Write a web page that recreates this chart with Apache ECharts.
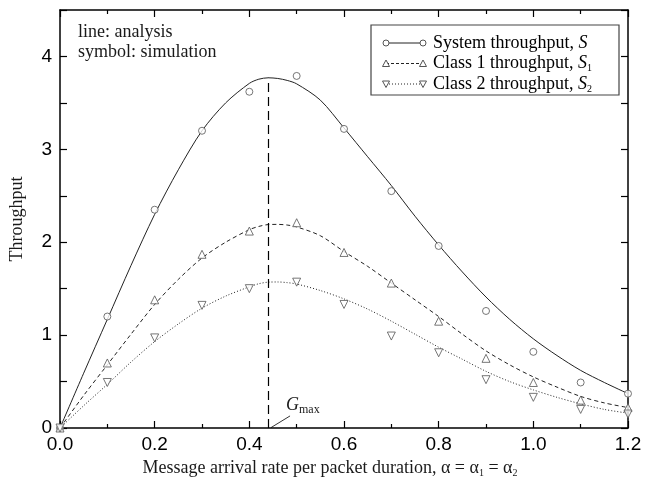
<!DOCTYPE html>
<html>
<head>
<meta charset="utf-8">
<script src="https://cdn.jsdelivr.net/npm/echarts@6/dist/echarts.min.js"></script>
<style>
  html, body { margin: 0; padding: 0; background: #fff; }
  #chart { width: 645px; height: 485px; }
</style>
</head>
<body>
<div id="chart"></div>
<script>
// Analysis curves (throughput vs. message arrival rate)
const xLine = [0, 0.05, 0.1, 0.15, 0.2, 0.25, 0.3, 0.35, 0.4, 0.42, 0.44, 0.46, 0.48, 0.5, 0.55, 0.6, 0.65, 0.7, 0.75, 0.8, 0.85, 0.9, 0.95, 1.0, 1.05, 1.1, 1.15, 1.2];
const lineS  = [0, 0.59, 1.17, 1.75, 2.3, 2.78, 3.2, 3.5, 3.71, 3.755, 3.77, 3.763, 3.742, 3.705, 3.53, 3.23, 2.92, 2.61, 2.28, 1.97, 1.68, 1.41, 1.17, 0.96, 0.78, 0.62, 0.49, 0.37];
const lineC1 = [0, 0.35, 0.68, 1.01, 1.33, 1.6, 1.83, 2.0, 2.135, 2.17, 2.19, 2.192, 2.185, 2.165, 2.07, 1.9, 1.74, 1.56, 1.38, 1.2, 1.01, 0.83, 0.68, 0.55, 0.44, 0.34, 0.27, 0.22];
const lineC2 = [0, 0.24, 0.47, 0.71, 0.93, 1.12, 1.29, 1.42, 1.52, 1.553, 1.57, 1.572, 1.565, 1.55, 1.48, 1.39, 1.28, 1.15, 1.01, 0.87, 0.74, 0.61, 0.5, 0.41, 0.33, 0.26, 0.2, 0.16];

// Simulation results
const xSim  = [0, 0.1, 0.2, 0.3, 0.4, 0.5, 0.6, 0.7, 0.8, 0.9, 1.0, 1.1, 1.2];
const simS  = [0, 1.2, 2.35, 3.2, 3.62, 3.79, 3.22, 2.55, 1.96, 1.26, 0.82, 0.49, 0.37];
const simC1 = [0, 0.7, 1.38, 1.87, 2.12, 2.21, 1.89, 1.56, 1.15, 0.75, 0.49, 0.3, 0.22];
const simC2 = [0, 0.49, 0.97, 1.32, 1.5, 1.57, 1.33, 0.99, 0.81, 0.52, 0.33, 0.2, 0.15];

// Peak of the system throughput curve
const gmaxX = 0.44;
const gmaxY = lineS[xLine.indexOf(gmaxX)];

const legendNames = ['System throughput, ', 'Class 1 throughput, ', 'Class 2 throughput, '];
const legendSubs = ['', '1', '2'];

const SERIF = 'Liberation Serif';
const SANS = 'Liberation Sans';
const INK = '#1a1a1a';
const MARK = '#555';

const pairs = (xs, ys) => xs.map((x, i) => [x, ys[i]]);

const chart = echarts.init(document.getElementById('chart'), null, { renderer: 'canvas' });

const frameAxis = {
  axisLine: { onZero: false, lineStyle: { color: '#000', width: 1.5 } },
  splitLine: { show: false }
};

const richText = {
  n: { fontFamily: SERIF, fontSize: 18, color: INK, lineHeight: 20 },
  i: { fontFamily: SERIF, fontSize: 18, fontStyle: 'italic', color: INK, lineHeight: 20 },
  s: { fontFamily: SERIF, fontSize: 10, color: INK, lineHeight: 10, verticalAlign: 'bottom' }
};

const lineStyles = [
  { type: 'solid' },
  { type: [4, 3] },
  { type: [1, 2] }
];
const symbols = [
  { symbol: 'circle', rotate: 0 },
  { symbol: 'triangle', rotate: 0 },
  { symbol: 'triangle', rotate: 180 }
];

const analysis = [lineS, lineC1, lineC2];
const simulation = [simS, simC1, simC2];

const series = [];
analysis.forEach((ys, k) => {
  const s = {
    type: 'line',
    data: pairs(xLine, ys),
    showSymbol: false,
    smooth: 0.3,
    lineStyle: Object.assign({ color: '#222', width: 1 }, lineStyles[k]),
    silent: true,
    z: 2
  };
  if (k === 0) {
    s.markLine = {
      silent: true,
      symbol: ['none', 'none'],
      label: { show: false },
      lineStyle: { color: '#000', width: 1.2, type: [9, 5] },
      data: [[{ coord: [gmaxX, 0] }, { coord: [gmaxX, gmaxY] }]]
    };
  }
  if (k === 2) {
    s.markLine = {
      silent: true,
      symbol: ['none', 'arrow'],
      symbolSize: [0, 6],
      label: { show: false },
      lineStyle: { color: '#000', width: 0.8, type: 'solid' },
      data: [[{ coord: [0.486, 0.13] }, { coord: [gmaxX + 0.006, 0.005] }]]
    };
    s.markPoint = {
      silent: true,
      symbol: 'circle',
      symbolSize: 0,
      label: {
        show: true,
        position: 'inside',
        formatter: '{g|G}{m|max}',
        rich: {
          g: { fontFamily: SERIF, fontSize: 18, fontStyle: 'italic', color: INK, lineHeight: 20 },
          m: { fontFamily: SERIF, fontSize: 12, color: INK, lineHeight: 12, verticalAlign: 'bottom' }
        }
      },
      data: [{ coord: [0.513, 0.24] }]
    };
  }
  series.push(s);
});
simulation.forEach((ys, k) => {
  series.push({
    type: 'scatter',
    data: pairs(xSim, ys),
    symbol: symbols[k].symbol,
    symbolRotate: symbols[k].rotate,
    symbolSize: k === 0 ? 7 : 8,
    itemStyle: { color: '#fff', borderColor: MARK, borderWidth: 1 },
    silent: true,
    z: 3
  });
});

// Legend box drawn as a framed group
const legendLeft = 371, legendTop = 25, legendW = 248, legendH = 70;
const rowY = [43, 63.5, 84];
const legendChildren = [{
  type: 'rect',
  shape: { x: legendLeft, y: legendTop, width: legendW, height: legendH },
  style: { fill: '#fff', stroke: '#444', lineWidth: 1.2 }
}];
rowY.forEach((y, k) => {
  const x0 = 386, x1 = 423;
  legendChildren.push({
    type: 'line',
    shape: { x1: x0, y1: y, x2: x1, y2: y },
    style: Object.assign({ stroke: '#222', lineWidth: 1 },
      k === 1 ? { lineDash: [3, 2] } : k === 2 ? { lineDash: [1, 2] } : {})
  });
  [x0, x1].forEach(cx => {
    if (k === 0) {
      legendChildren.push({ type: 'circle', shape: { cx: cx, cy: y, r: 3 }, style: { fill: '#fff', stroke: MARK, lineWidth: 1 } });
    } else {
      const d = k === 1 ? -1 : 1;
      legendChildren.push({
        type: 'polygon',
        shape: { points: [[cx - 3.5, y - 3 * d], [cx + 3.5, y - 3 * d], [cx, y + 3.5 * d]] },
        style: { fill: '#fff', stroke: MARK, lineWidth: 1 }
      });
    }
  });
  legendChildren.push({
    type: 'text',
    x: 433, y: y,
    style: {
      text: '{n|' + legendNames[k] + '}{i|S}' + (legendSubs[k] ? '{s|' + legendSubs[k] + '}' : ''),
      rich: richText,
      verticalAlign: 'middle'
    }
  });
});

const option = {
  animation: false,
  backgroundColor: '#fff',
  grid: { left: 59, right: 17, top: 10, bottom: 57 },
  xAxis: [
    Object.assign({}, frameAxis, {
      type: 'value', min: 0, max: 1.2, interval: 0.2, position: 'bottom',
      axisTick: { inside: true, length: 7, lineStyle: { color: '#000', width: 1.2 } },
      minorTick: { show: true, splitNumber: 2, length: 4, lineStyle: { color: '#000', width: 1.2 } },
      axisLabel: { formatter: v => v.toFixed(1), fontFamily: SANS, fontSize: 19, color: '#000', margin: 7 },
      name: '{t|Message arrival rate per packet duration, α = α}{s|1}{t| = α}{s|2}',
      nameLocation: 'middle',
      nameGap: 30,
      nameTextStyle: {
        padding: [0, 28, 0, 0],
        rich: {
          t: { fontFamily: SERIF, fontSize: 18, color: INK, lineHeight: 20 },
          s: { fontFamily: SERIF, fontSize: 10, color: INK, lineHeight: 10, verticalAlign: 'bottom' }
        }
      }
    }),
    Object.assign({}, frameAxis, {
      type: 'value', min: 0, max: 1.2, interval: 0.2, position: 'top',
      axisTick: { inside: true, length: 7, lineStyle: { color: '#000', width: 1.2 } },
      minorTick: { show: true, splitNumber: 2, length: 4, lineStyle: { color: '#000', width: 1.2 } },
      axisLabel: { show: false }
    })
  ],
  yAxis: [
    Object.assign({}, frameAxis, {
      type: 'value', min: 0, max: 4.5, interval: 0.5, position: 'left',
      axisTick: { inside: true, length: 7, lineStyle: { color: '#000', width: 1.2 } },
      axisLabel: {
        formatter: v => (Number.isInteger(v) ? String(v) : ''),
        fontFamily: SANS, fontSize: 19, color: '#000', margin: 8
      },
      name: 'Throughput',
      nameLocation: 'middle',
      nameGap: 34,
      nameTextStyle: { fontFamily: SERIF, fontSize: 18, color: INK }
    }),
    Object.assign({}, frameAxis, {
      type: 'value', min: 0, max: 4.5, interval: 0.5, position: 'right',
      axisTick: { inside: true, length: 7, lineStyle: { color: '#000', width: 1.2 } },
      axisLabel: { show: false }
    })
  ],
  series: series,
  graphic: [
    {
      type: 'text', x: 78, y: 32,
      style: { text: 'line: analysis', fontFamily: SERIF, fontSize: 18, fill: INK, verticalAlign: 'middle' }
    },
    {
      type: 'text', x: 78, y: 52,
      style: { text: 'symbol: simulation', fontFamily: SERIF, fontSize: 18, fill: INK, verticalAlign: 'middle' }
    },
    { type: 'group', children: legendChildren, z: 10 }
  ]
};

chart.setOption(option);
</script>
</body>
</html>
